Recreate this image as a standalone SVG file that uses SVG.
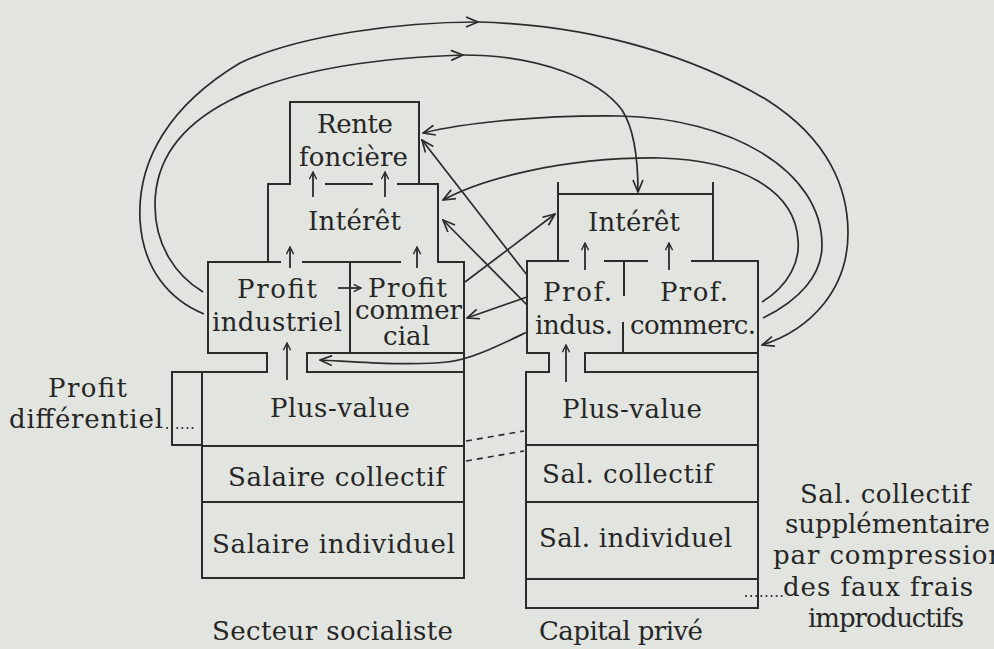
<svg xmlns="http://www.w3.org/2000/svg" width="994" height="649" viewBox="0 0 994 649">
<style>
.bx{fill:none;stroke:#2b2b2b;stroke-width:2;stroke-linecap:square}
.cn{fill:none;stroke:#2b2b2b;stroke-width:1.7}
.sm{fill:none;stroke:#2b2b2b;stroke-width:1.8}
.dash{fill:none;stroke:#2b2b2b;stroke-width:1.6;stroke-dasharray:6,5}
.dot{fill:none;stroke:#2b2b2b;stroke-width:2;stroke-dasharray:0.1,5;stroke-linecap:round}
text{font-family:"DejaVu Serif","Liberation Serif",serif;font-size:26px;fill:#262626}
</style>
<defs>
<marker id="ah" viewBox="0 0 14 12" refX="13" refY="6" markerWidth="14" markerHeight="12" orient="auto" markerUnits="userSpaceOnUse">
<path d="M1,1 L13,6 L1,11" fill="none" stroke="#2b2b2b" stroke-width="1.7"/>
</marker>
<marker id="sa" viewBox="0 0 10 10" refX="9" refY="5" markerWidth="9" markerHeight="9" orient="auto" markerUnits="userSpaceOnUse">
<path d="M1,1 L9,5 L1,9" fill="none" stroke="#2b2b2b" stroke-width="1.6"/>
</marker>
</defs>
<rect width="994" height="649" fill="#e2e4df"/>

<g id="socialiste">
<g id="rente">
<path class="bx" d="M290,184 V102 H419 V184"/>
<text x="317" y="133" textLength="76">Rente</text>
<text x="299" y="166" textLength="109">foncière</text>
</g>
<g id="interet-s">
<path class="bx" d="M268,184 H290 M398,184 H438 M268,184 V262 M438,184 V262"/>
<text x="308" y="230" textLength="93">Intérêt</text>
</g>
<g id="profit-ind">
<path class="bx" d="M208,262 H280 M303,262 H400 M438,262 H464 M208,262 V353 H267 V372 M350,262 V353"/>
<text x="237" y="298" textLength="80">Profit</text>
<text x="212" y="331" textLength="130">industriel</text>
</g>
<g id="profit-com">
<path class="bx" d="M307,372 V353 H464 V262"/>
<text x="368" y="297" textLength="79">Profit</text>
<text x="355" y="319" textLength="107">commer</text>
<text x="383" y="345" textLength="47">cial</text>
</g>
<g id="plus-value-s">
<path class="bx" d="M267,372 H202 V446 H464 V353 M307,372 H464"/>
<text x="270" y="417" textLength="140">Plus-value</text>
</g>
<g id="salaire-coll-s">
<path class="bx" d="M202,446 V502 H464 V446"/>
<text x="228" y="486" textLength="217">Salaire  collectif</text>
</g>
<g id="salaire-ind-s">
<path class="bx" d="M202,502 V578 H464 V502"/>
<text x="212" y="553" textLength="243">Salaire  individuel</text>
</g>
<g id="profit-diff">
<path class="bx" d="M202,372 H172 V445 H202"/>
<text x="48" y="397" textLength="79">Profit</text>
<text x="9" y="428" textLength="154">différentiel</text>
<path class="dot" d="M167,428 H195"/>
</g>
<text x="212" y="640" textLength="241">Secteur  socialiste</text>
</g>

<g id="prive">
<g id="interet-p">
<path class="bx" d="M558,183 V261 M713,183 V261 M558,194 H713"/>
<text x="588" y="231" textLength="92">Intérêt</text>
</g>
<g id="prof-indus">
<path class="bx" d="M527,261 H568 M605,261 H647 M624,261 V295 M527,261 V353 H549 V372 M623,323 V353"/>
<text x="543" y="301" textLength="69">Prof.</text>
<text x="535" y="334" textLength="78">indus.</text>
</g>
<g id="prof-comm">
<path class="bx" d="M692,261 H758 V353 M585,372 V353 H758"/>
<text x="660" y="301" textLength="68">Prof.</text>
<text x="630" y="334" textLength="126">commerc.</text>
</g>
<g id="plus-value-p">
<path class="bx" d="M549,372 H526 V445 H758 V353 M585,372 H758"/>
<text x="562" y="418" textLength="140">Plus-value</text>
</g>
<g id="sal-coll-p">
<path class="bx" d="M526,445 V502 H758 V445"/>
<text x="542" y="483" textLength="171">Sal.  collectif</text>
</g>
<g id="sal-ind-p">
<path class="bx" d="M526,502 V579 H758 V502"/>
<text x="539" y="547" textLength="193">Sal.  individuel</text>
</g>
<g id="faux-frais">
<path class="bx" d="M526,579 V608 H758 V579"/>
<path class="dot" d="M746,596 H782"/>
</g>
<text x="539" y="640" textLength="164">Capital  privé</text>
<g id="note">
<text x="800" y="503" textLength="170">Sal.  collectif</text>
<text x="785" y="533" textLength="205">supplémentaire</text>
<text x="773" y="564" textLength="232">par  compression</text>
<text x="783" y="596" textLength="190">des  faux  frais</text>
<text x="808" y="627" textLength="156">improductifs</text>
</g>
</g>

<g id="connectors">
<path class="sm" d="M313,197 V172" marker-end="url(#sa)"/>
<path class="sm" d="M385,197 V172" marker-end="url(#sa)"/>
<path class="bx" d="M326,184 H372"/>
<path class="sm" d="M290,268 V247" marker-end="url(#sa)"/>
<path class="sm" d="M417,268 V247" marker-end="url(#sa)"/>
<path class="sm" d="M338,288 H361" marker-end="url(#sa)"/>
<path class="sm" d="M287,380 V343" marker-end="url(#sa)"/>
<path class="sm" d="M585,270 V243" marker-end="url(#sa)"/>
<path class="sm" d="M669,270 V243" marker-end="url(#sa)"/>
<path class="sm" d="M566,382 V345" marker-end="url(#sa)"/>
<path class="dash" d="M466,441 L524,431"/>
<path class="dash" d="M466,461 L524,451"/>
<path class="cn" d="M204,314 C170,300 143,270 140,220 C137,160 170,105 240,63 C300,35 400,22 478,22" marker-end="url(#ah)"/>
<path class="cn" d="M478,22 C600,25 700,60 767,100 C830,140 848,190 848,233 C848,290 810,330 762,345" marker-end="url(#ah)"/>
<path class="cn" d="M203,292 C175,275 155,245 155,205 C155,120 250,62 463,55" marker-end="url(#ah)"/>
<path class="cn" d="M463,55 C540,55 600,80 622,110 C635,130 638,160 638,192" marker-end="url(#ah)"/>
<path class="cn" d="M762,302 C790,285 800,260 798,240 C795,190 740,160 660,158 C560,157 480,180 443,200" marker-end="url(#ah)"/>
<path class="cn" d="M763,318 C800,300 822,275 822,245 C822,170 730,118 620,116 C530,115 460,124 423,133" marker-end="url(#ah)"/>
<path class="cn" d="M527,275 L422,140" marker-end="url(#ah)"/>
<path class="cn" d="M527,305 L443,220" marker-end="url(#ah)"/>
<path class="cn" d="M465,282 L555,214" marker-end="url(#ah)"/>
<path class="cn" d="M527,297 L467,318" marker-end="url(#ah)"/>
<path class="cn" d="M527,332 C500,345 470,360 447,362 C410,366 360,362 320,360" marker-end="url(#ah)"/>
</g>
</svg>
